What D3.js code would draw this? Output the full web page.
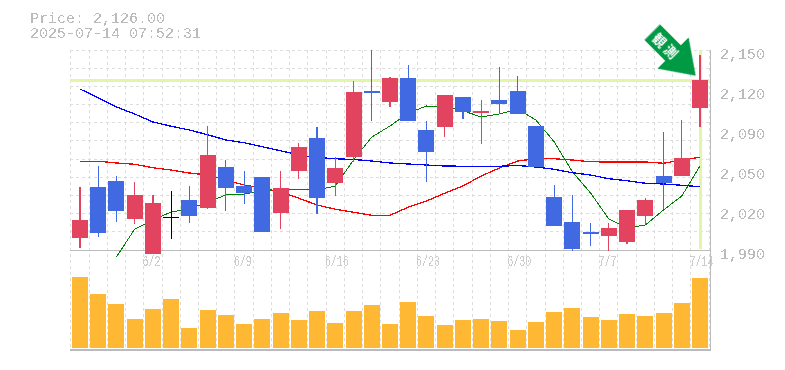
<!DOCTYPE html>
<html>
<head>
<meta charset="utf-8">
<script src="https://cdn.jsdelivr.net/npm/d3@7"></script>
<style>
  html, body { margin: 0; padding: 0; background: #fff; }
  svg { display: block; }
  text { font-family: "Liberation Mono", monospace; font-size: 15px; fill: #bbb; }
</style>
</head>
<body>
<div id="chart"></div>
<script>
const dates = ["5/27","5/28","5/29","5/30","6/2","6/3","6/4","6/5","6/6","6/9","6/10","6/11","6/12","6/13","6/16","6/17","6/18","6/19","6/20","6/23","6/24","6/25","6/26","6/27","6/30","7/1","7/2","7/3","7/4","7/7","7/8","7/9","7/10","7/11","7/14"];
const dateLabels = ["6/2","6/9","6/16","6/23","6/30","7/7","7/14"];

const opens = [1999.6,2040.4,2045.2,2014.8,1986.8,2016.2,2030,2023.6,2056.4,2041.2,2048.4,2019.6,2053.2,2079.6,2043.6,2064.4,2117.2,2108.4,2127.6,2086,2088.4,2112.4,2099.6,2110,2117.2,2089.2,2032.4,2012.4,2004.4,2001.2,1996.4,2017.2,2049.2,2049.2,2103.6];
const highs = [2040.4,2057.2,2049.2,2044.4,2034,2037.2,2041.2,2089.2,2062,2053.2,2048.4,2053.2,2075.6,2088.4,2064.4,2125.2,2150,2128.4,2138,2093.2,2114,2112.4,2110,2136.4,2129.2,2089.2,2042,2034,2011.6,2011.6,2022,2031.6,2084.4,2094,2146];
const lows = [1991.6,2000.4,2012.4,2010.8,1986.8,1998.8,2011.6,2022.8,2021.2,2026.8,2004.4,2006.8,2046.8,2018.8,2033.2,2060.4,2093.2,2104.4,2093.2,2044.4,2080.4,2094.8,2074.8,2098.8,2098.8,2056.4,2009.2,1989.2,1993.2,1989.2,1994.8,2010.8,2022.8,2049.2,2088.4];
const closes = [2014,2003.6,2021.2,2034,2027.6,2016.2,2017.2,2066,2039.6,2035.6,2004.4,2039.6,2072.4,2031.6,2055.6,2116.4,2115.6,2127.6,2093.2,2068.4,2114,2100.4,2101.2,2106.8,2098.8,2056.4,2009.2,1990.8,2002.8,2007.6,2022,2030,2043.6,2063.6,2126];

// moving averages
const maGreen = [null,null,1984.4,2006.8,2014,2020.4,2022.8,2028.4,2034,2034.8,2037.2,2038.4,2038.6,2038,2041.2,2062,2080.4,2089.2,2099.6,2105.2,2104.8,2101.4,2096.4,2098.8,2102.8,2094,2076.6,2052.6,2035.6,2014.8,2007.6,2010,2022,2033.2,2057.2];
const maRed = [2061,2061,2059.6,2058.6,2055.8,2054,2051.6,2050,2046,2042,2039.6,2036.4,2031.4,2026,2022.6,2020.2,2017.8,2017.8,2024.2,2029.2,2035.4,2041.2,2049.2,2055.6,2061.2,2063,2063,2062,2060.6,2060.4,2060.4,2060.4,2059.4,2062,2064.2];
const maBlue = [2118.8,2111.6,2104.4,2098.8,2092.4,2089,2086,2082.2,2078,2075.8,2072.6,2069.4,2066,2064,2063,2062.4,2061.2,2059.6,2058.8,2058,2057.2,2057,2057,2057,2057.6,2056.4,2054.6,2051.8,2050,2047,2045.4,2043.4,2042.8,2041.8,2040.6];

const volumes = [71,54,44,29,39,49,20,38,33,24,29,35,28,37,25,37,43,24,46,32,23,28,29,27,18,26,36,40,31,28,34,32,35,45,70];

const priceTicks = [2150,2118,2086,2054,2022,1990];
const priceTickLabels = ["2,150","2,120","2,090","2,050","2,020","1,990"];
const lastPrice = 2126;
const headerLines = ["Price: 2,126.00","2025-07-14 07:52:31"];

const chartW = 785, chartH = 370;
const plotLeft = 70, plotRight = 710, plotTop = 50, plotBottom = 250, volBase = 348, panelEnd = 350;

const svg = d3.select("#chart").append("svg")
    .attr("width", chartW)
    .attr("height", chartH)
    .attr("viewBox", `0 0 ${chartW} ${chartH}`);

// threshold alpha so the text comes out aliased like the bitmap font
svg.append("filter").attr("id", "hard").attr("filterUnits", "userSpaceOnUse")
    .attr("x", 0).attr("y", 0).attr("width", chartW).attr("height", chartH)
    .append("feComponentTransfer")
    .append("feFuncA").attr("type", "discrete").attr("tableValues", "0 1");

const x = d3.scaleBand().domain(dates).range([70.88, 709.12]);
const y = d3.scaleLinear().domain([1990, 2150]).range([plotBottom, plotTop]);
const yVol = d3.scaleLinear().domain([0, 71]).range([volBase, 277]);
const cx = d => x(d) + x.bandwidth() / 2;

// grid
const gridRows = d3.range(12).map(i => 2150 - i * 160 / 11);
const grid = svg.append("g").attr("stroke", "#ddd").attr("stroke-dasharray", "3,3").attr("shape-rendering", "crispEdges");
grid.selectAll(".h").data(gridRows).enter().append("line")
    .attr("class", "h")
    .attr("x1", plotLeft).attr("x2", plotRight)
    .attr("y1", d => y(d)).attr("y2", d => y(d));
grid.selectAll(".v").data(dates).enter().append("line")
    .attr("class", "v")
    .attr("x1", d => x(d)).attr("x2", d => x(d))
    .attr("y1", plotTop).attr("y2", panelEnd);
grid.append("line").attr("x1", x.range()[1]).attr("x2", x.range()[1]).attr("y1", plotTop).attr("y2", panelEnd);

// frame
const frame = svg.append("g").attr("stroke", "#bbb").attr("shape-rendering", "crispEdges");
frame.append("line").attr("x1", plotLeft).attr("x2", plotRight).attr("y1", plotBottom).attr("y2", plotBottom);
frame.append("line").attr("x1", plotRight).attr("x2", plotRight).attr("y1", plotTop).attr("y2", panelEnd);
frame.append("line").attr("x1", plotLeft).attr("x2", plotRight + 1).attr("y1", panelEnd).attr("y2", panelEnd).attr("stroke-width", 2);

// last price cross
const lastDate = dates[dates.length - 1];
const cross = svg.append("g").attr("stroke", "#e2f5a9").attr("stroke-width", 3).attr("shape-rendering", "crispEdges");
cross.append("line").attr("x1", plotLeft).attr("x2", plotRight).attr("y1", y(lastPrice)).attr("y2", y(lastPrice));
cross.append("line").attr("x1", cx(lastDate)).attr("x2", cx(lastDate)).attr("y1", plotTop).attr("y2", plotBottom - 1);

// moving averages
const maLine = d3.line()
    .defined(d => d.v !== null)
    .x(d => cx(d.date))
    .y(d => y(d.v));
[[maGreen, "#008000"], [maRed, "#ff0000"], [maBlue, "#0000ff"]].forEach(([values, color]) => {
    svg.append("path")
        .datum(values.map((v, i) => ({date: dates[i], v: v})))
        .attr("fill", "none")
        .attr("stroke", color)
        .attr("stroke-width", color === "#008000" ? 1 : 1.3)
        .attr("shape-rendering", "crispEdges")
        .attr("d", maLine);
});

// candles
const candleColor = i => closes[i] > opens[i] ? "#e2435f" : closes[i] < opens[i] ? "#4169e1" : "#000";
const candles = svg.append("g").attr("shape-rendering", "crispEdges");
candles.selectAll(".wick").data(dates).enter().append("line")
    .attr("class", "wick")
    .attr("x1", d => cx(d)).attr("x2", d => cx(d))
    .attr("y1", (d, i) => y(highs[i]))
    .attr("y2", (d, i) => y(lows[i]))
    .attr("stroke-width", 1.2)
    .attr("stroke", (d, i) => candleColor(i));
candles.selectAll(".body").data(dates).enter().append("rect")
    .attr("class", "body")
    .attr("x", d => cx(d) - 8)
    .attr("width", 16)
    .attr("y", (d, i) => y(Math.max(opens[i], closes[i])))
    .attr("height", (d, i) => Math.max(1, Math.abs(y(opens[i]) - y(closes[i]))))
    .attr("fill", (d, i) => candleColor(i));

// volume
svg.append("g").attr("shape-rendering", "crispEdges").selectAll("rect").data(dates).enter().append("rect")
    .attr("x", d => cx(d) - 8)
    .attr("width", 16)
    .attr("y", (d, i) => yVol(volumes[i]))
    .attr("height", (d, i) => volBase - yVol(volumes[i]))
    .attr("fill", "#ffb833");

// texts
const labels = svg.append("g").attr("filter", "url(#hard)");
labels.selectAll(".head").data(headerLines).enter().append("text")
    .attr("class", "head")
    .attr("x", 30)
    .attr("y", (d, i) => 23 + i * 15)
    .text(d => d);

const yAxis = d3.axisRight(y)
    .tickValues(priceTicks)
    .tickSize(0)
    .tickPadding(10)
    .tickFormat((d, i) => priceTickLabels[i]);
const axisG = labels.append("g").attr("transform", `translate(${plotRight},0)`).call(yAxis);
axisG.select(".domain").remove();
axisG.attr("font-family", null).attr("font-size", null);
axisG.selectAll("text").attr("dy", 8);

labels.selectAll(".date").data(dateLabels).enter().append("text")
    .attr("class", "date")
    .attr("x", d => x(d) - 1.3)
    .attr("y", 266)
    .attr("textLength", d => d.length * 6)
    .attr("lengthAdjust", "spacingAndGlyphs")
    .style("fill", "#ccc")
    .text(d => d);

// arrow pointing at the last candle
const arrow = svg.append("g")
    .attr("transform", `translate(${cx(lastDate) - 4.3},${y(lastPrice) - 4.3}) rotate(45)`);
arrow.append("polygon")
    .attr("points", "0,0 -32,-22 -32,-11 -61.5,-11 -61.5,11 -32,11 -32,22")
    .attr("fill", "#009944");
arrow.append("text")
    .attr("x", -41)
    .attr("y", 5)
    .attr("text-anchor", "middle")
    .attr("letter-spacing", 3)
    .style("font-family", "'Noto Sans CJK JP'")
    .style("font-size", "13px")
    .style("font-weight", "bold")
    .style("fill", "#fff")
    .text("観測");
</script>
</body>
</html>
